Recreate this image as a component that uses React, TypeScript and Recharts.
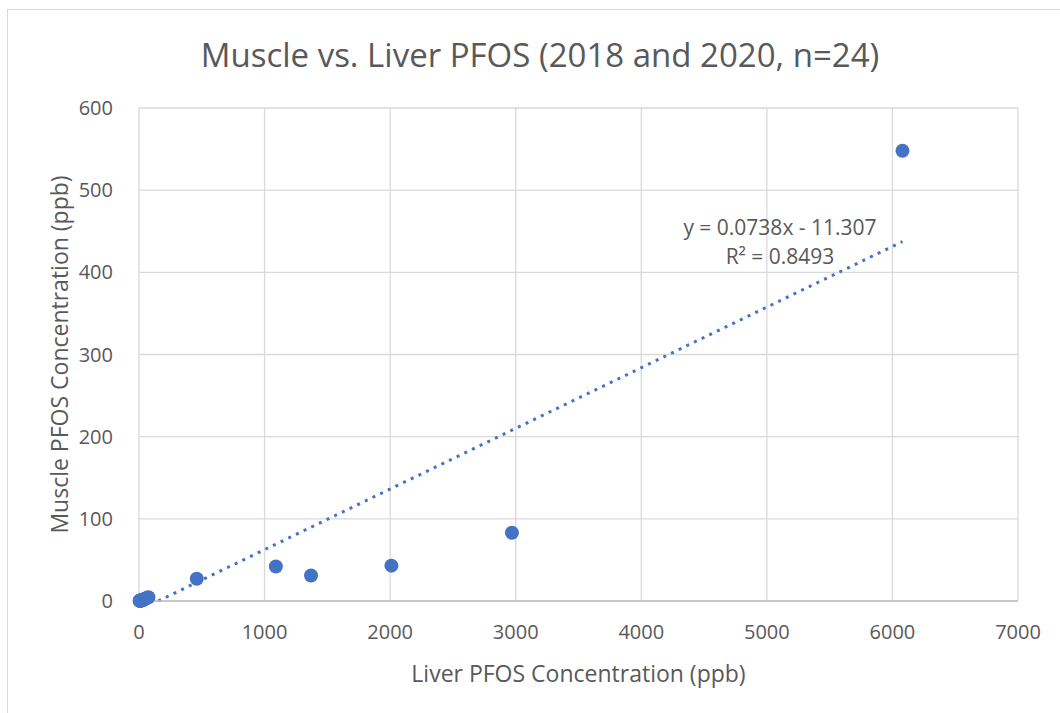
import React from 'react';
import {
  ScatterChart,
  Scatter,
  XAxis,
  YAxis,
  CartesianGrid,
  ReferenceLine,
  Label,
} from 'recharts';

// Liver PFOS (x) vs Muscle PFOS (y), ppb
const liverPfos = [
  6080, 2970, 2010, 1370, 1090, 460,
  5, 8, 10, 12, 15, 18, 20, 22, 25, 28, 30, 35, 40, 10, 6, 55, 65, 75,
];
const musclePfos = [
  548, 83, 43, 31, 42, 27,
  0.3, 0.4, 0.5, 0.6, 0.5, 0.8, 1, 0.7, 1.2, 1, 1.5, 1.8, 2, 0.2, 0.1, 3, 4, 4.5,
];

const xTicks = [0, 1000, 2000, 3000, 4000, 5000, 6000, 7000];
const yTicks = [0, 100, 200, 300, 400, 500, 600];

// Trendline endpoints (y = 0.0738x - 11.307, clipped at y = 0)
const trendStart = { x: 153, y: 0 };
const trendEnd = { x: 6080, y: 437.4 };

const equationText = 'y = 0.0738x - 11.307';
const r2Text = 'R² = 0.8493';
const titleText = 'Muscle vs. Liver PFOS (2018 and 2020, n=24)';
const xTitle = 'Liver PFOS Concentration (ppb)';
const yTitle = 'Muscle PFOS Concentration (ppb)';

const points = liverPfos.map((x, i) => ({ x, y: musclePfos[i] }));

const FONT = '"Open Sans", sans-serif';
const TEXT = '#595959';
const BLUE = '#4472C4';

const Dot = (props: any) => (
  <circle cx={props.cx} cy={props.cy} r={7} fill={BLUE} />
);

export default function App() {
  return (
    <div
      style={{
        position: 'absolute',
        left: 0,
        top: 0,
        width: 1060,
        height: 713,
        background: '#fff',
        fontFamily: FONT,
        overflow: 'hidden',
      }}
    >
      <div
        style={{
          position: 'absolute',
          left: 7,
          top: 9,
          width: 1100,
          height: 800,
          border: '1.5px solid #d9d9d9',
          boxSizing: 'border-box',
        }}
      />
      <ScatterChart
        width={1060}
        height={713}
        margin={{ top: 108, right: 42, bottom: 0, left: 0 }}
        style={{ position: 'absolute', left: 0, top: 0 }}
      >
        <CartesianGrid stroke="#d9d9d9" strokeWidth={1.3} />
        <XAxis
          type="number"
          dataKey="x"
          domain={[0, 7000]}
          ticks={xTicks}
          height={112}
          tickSize={0}
          tickMargin={24}
          axisLine={{ stroke: '#bfbfbf', strokeWidth: 1.5 }}
          tick={{ fill: TEXT, fontSize: 20, fontFamily: FONT }}
        >
          <Label
            value={xTitle}
            position="insideBottom"
            offset={31}
            fill={TEXT}
            fontSize={23}
            fontFamily={FONT}
          />
        </XAxis>
        <YAxis
          type="number"
          dataKey="y"
          domain={[0, 600]}
          ticks={yTicks}
          width={139}
          tickSize={0}
          tickMargin={26}
          axisLine={false}
          tick={{ fill: TEXT, fontSize: 20, fontFamily: FONT }}
        >
          <Label
            value={yTitle}
            position="insideLeft"
            angle={-90}
            offset={60}
            fill={TEXT}
            fontSize={23}
            fontFamily={FONT}
            style={{ textAnchor: 'middle' }}
          />
        </YAxis>
        <ReferenceLine
          segment={[trendStart, trendEnd]}
          stroke={BLUE}
          strokeWidth={3}
          strokeDasharray="3 5.5"
          ifOverflow="visible"
        />
        <Scatter
          data={points}
          fill={BLUE}
          shape={Dot}
          isAnimationActive={false}
        />
      </ScatterChart>
      <div
        style={{
          position: 'absolute',
          left: 540,
          top: 54,
          transform: 'translate(-50%, -50%)',
          whiteSpace: 'nowrap',
          color: TEXT,
          fontSize: 33,
        }}
      >
        {titleText}
      </div>
      <div
        style={{
          position: 'absolute',
          left: 780,
          top: 242,
          transform: 'translate(-50%, -50%)',
          whiteSpace: 'nowrap',
          color: TEXT,
          fontSize: 21,
          textAlign: 'center',
          lineHeight: '29px',
        }}
      >
        <div>{equationText}</div>
        <div>{r2Text}</div>
      </div>
    </div>
  );
}
